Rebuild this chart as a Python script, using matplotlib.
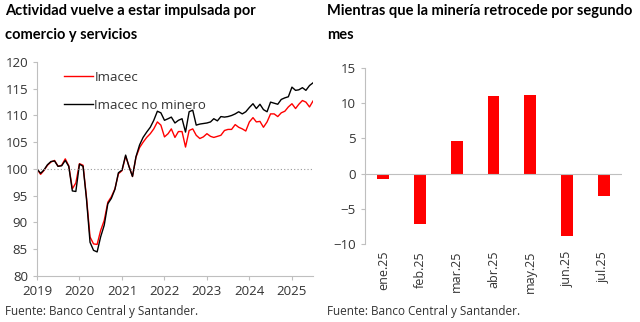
import pandas as pd
import numpy as np
import matplotlib
matplotlib.use("Agg")
import matplotlib.pyplot as plt
import matplotlib.dates as mdates

plt.rcParams['font.family'] = ['Open Sans', 'DejaVu Sans']

# Imacec indices, monthly Jan 2019 - Jul 2025 (2018 = 100 approx)
months = pd.date_range('2019-01-01', '2025-07-01', freq='MS')
imacec = [100.0, 99.0, 99.7, 100.7, 101.3, 101.6, 100.5, 100.7, 101.9, 100.6, 96.3, 97.4,
          101.0, 100.7, 94.8, 87.3, 86.0, 85.9, 88.5, 90.4, 93.8, 94.8, 96.3, 99.1,
          99.7, 102.4, 100.6, 98.6, 102.2, 104.0, 105.0, 105.9, 106.6, 107.5, 108.8, 108.2,
          106.0, 106.6, 107.5, 105.9, 107.0, 107.0, 104.1, 107.2, 107.5, 106.3, 105.7, 106.0,
          106.6, 106.1, 105.9, 106.1, 106.3, 107.2, 107.4, 107.4, 108.3, 107.8, 107.5, 107.1,
          108.8, 109.6, 108.8, 108.9, 107.8, 108.8, 110.3, 110.3, 109.8, 110.5, 110.8, 111.6,
          112.2, 111.3, 112.1, 112.8, 112.5, 111.6, 112.7]
imacec_nm = [100.0, 99.2, 99.8, 100.8, 101.4, 101.5, 100.5, 100.6, 101.6, 100.5, 95.9, 95.8,
             100.9, 100.5, 94.5, 86.3, 84.8, 84.5, 87.3, 89.5, 93.5, 94.5, 96.2, 99.3,
             99.8, 102.6, 100.5, 98.6, 102.3, 104.5, 105.9, 106.9, 107.8, 109.1, 110.8, 110.5,
             109.1, 109.4, 109.7, 108.6, 109.1, 109.4, 106.9, 110.7, 111.0, 108.2, 108.4, 108.5,
             108.6, 108.8, 109.4, 109.0, 109.8, 109.7, 109.8, 110.0, 110.3, 110.7, 110.3, 110.7,
             111.5, 112.2, 111.3, 112.1, 111.1, 110.7, 112.5, 112.3, 112.1, 113.0, 113.3, 113.5,
             115.3, 114.7, 114.8, 115.2, 114.7, 115.6, 116.1]

# Mining Imacec, monthly change 2025
bar_labels = ['ene.25', 'feb.25', 'mar.25', 'abr.25', 'may.25', 'jun.25', 'jul.25']
mining = [-0.8, -7.2, 4.7, 11.0, 11.2, -8.9, -3.2]

RED = '#ff0000'
GREY = '#bfbfbf'
TXT = '#333333'

fig = plt.figure(figsize=(6.4, 3.22), dpi=100)

# ---- left chart
ax1 = fig.add_axes([37/640, 1 - 276/322, 276/640, 214/322])
ax1.plot(months, imacec, color=RED, lw=1.0, label='Imacec')
ax1.plot(months, imacec_nm, color='black', lw=1.0, label='Imacec no minero')
ax1.axhline(100, color='#999999', lw=0.8, ls=(0, (1, 2)))
ax1.set_ylim(80, 120)
ax1.set_yticks(range(80, 121, 5))
ax1.set_xlim(pd.Timestamp('2019-01-01'), pd.Timestamp('2025-07-01'))
ax1.xaxis.set_major_locator(mdates.YearLocator())
ax1.xaxis.set_major_formatter(mdates.DateFormatter('%Y'))
for s in ['top', 'right']:
    ax1.spines[s].set_visible(False)
for s in ['left', 'bottom']:
    ax1.spines[s].set_color(GREY)
    ax1.spines[s].set_linewidth(0.8)
ax1.tick_params(axis='both', colors=GREY, labelcolor=TXT, labelsize=9.5, length=3, width=0.8)
leg = ax1.legend(loc='upper left', bbox_to_anchor=(0.055, 1.015), frameon=False,
                 fontsize=9.5, handlelength=2.2, handletextpad=0.1, labelspacing=1.15)
for t in leg.get_texts():
    t.set_color(TXT)

# ---- right chart
ax2 = fig.add_axes([365/640, 1 - 244/322, 257/640, 176/322])
x = np.arange(len(mining))
ax2.bar(x, mining, width=0.32, color=RED)
ax2.axhline(0, color=GREY, lw=0.8)
ax2.set_xlim(-0.5, len(mining) - 0.5)
ax2.set_ylim(-10, 15)
ax2.set_yticks(range(-10, 16, 5))
ax2.set_xticks(x)
ax2.set_xticklabels(bar_labels, rotation=90, va='top')
for s in ['top', 'right', 'bottom']:
    ax2.spines[s].set_visible(False)
ax2.spines['left'].set_color(GREY)
ax2.spines['left'].set_linewidth(0.8)
ax2.tick_params(axis='y', colors=GREY, labelcolor=TXT, labelsize=9.5, length=3, width=0.8)
ax2.tick_params(axis='x', length=0, labelcolor=TXT, labelsize=9, pad=5)

# ---- titles and sources
title_kw = dict(fontsize=10.5, fontweight='bold', color='black', va='top', linespacing=1.9,
                family=['Lato', 'DejaVu Sans'])
fig.text(5/640, 1 - 4/322, 'Actividad vuelve a estar impulsada por\ncomercio y servicios', **title_kw)
fig.text(327/640, 1 - 4/322, 'Mientras que la minería retrocede por segundo\nmes', **title_kw)
fig.text(5/640, 1 - 311/322, 'Fuente: Banco Central y Santander.', fontsize=8.5, color=TXT, va='center')
fig.text(327/640, 1 - 311/322, 'Fuente: Banco Central y Santander.', fontsize=8.5, color=TXT, va='center')

fig.savefig('out.png', dpi=100)
